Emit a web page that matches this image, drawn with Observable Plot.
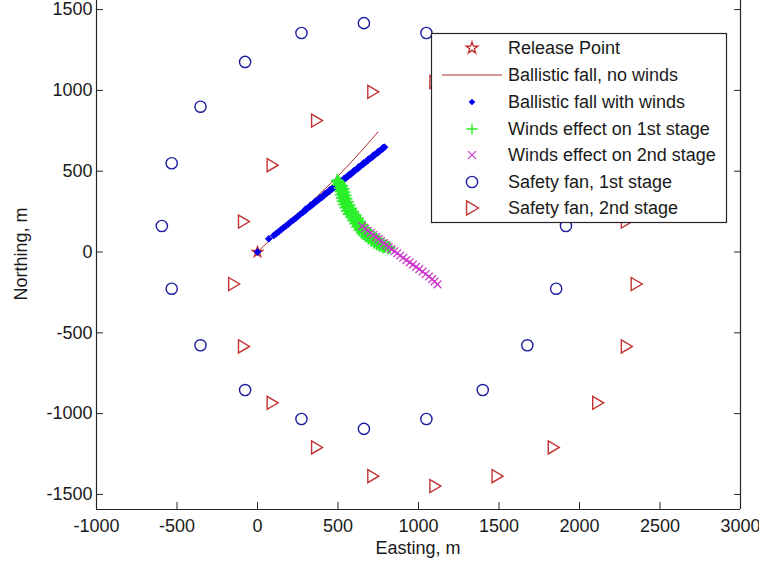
<!DOCTYPE html>
<html>
<head>
<meta charset="utf-8">
<script src="https://cdn.jsdelivr.net/npm/d3@7"></script>
<script src="https://cdn.jsdelivr.net/npm/@observablehq/plot@0.6"></script>
<style>
  html, body { margin: 0; padding: 0; background: white; }
  #chart { width: 759px; height: 569px; }
</style>
</head>
<body>
<div id="chart"></div>
<script>
// ---------- data ----------
const xTicks = [-1000, -500, 0, 500, 1000, 1500, 2000, 2500, 3000];
const yTicks = [-1500, -1000, -500, 0, 500, 1000, 1500];
const xLabel = "Easting, m";
const yLabel = "Northing, m";

const releaseX = [0];
const releaseY = [0];

const noWindX = [0, 60, 150, 250, 350, 453, 550, 650, 747];
const noWindY = [0, 58, 140, 232, 325, 423, 522, 630, 741];

const windX = [0, 70, 101, 116, 131, 146, 161, 176, 191, 206, 221, 236, 251, 266, 281, 296, 311, 326, 341, 356, 371, 386, 401, 416, 431, 446, 461, 476, 491, 506, 521, 536, 551, 566, 581, 596, 611, 626, 641, 656, 671, 686, 701, 716, 731, 746, 761, 776, 789,
               300, 330, 360, 390, 420, 450, 480, 510, 540, 570, 600, 630, 660, 690, 720, 750, 780];
const windY = [0, 82, 102, 114, 125, 138, 150, 161, 173, 186, 197, 208, 221, 234, 245, 256, 270, 281, 292, 305, 317, 328, 339, 353, 364, 375, 389, 400, 411, 425, 436, 446, 460, 471, 482, 496, 507, 518, 532, 543, 554, 567, 579, 589, 603, 613, 626, 637, 648,
               266, 290, 314, 337, 361, 385, 409, 432, 456, 480, 504, 528, 552, 575, 599, 622, 646];

const stage1X = [495, 505, 518, 524, 529, 534, 540, 547, 556, 566, 578, 593, 606, 619, 631, 645, 660, 683, 703, 722, 740, 757, 772, 792, 812,
                 492, 500, 510, 514, 518, 523, 528, 535, 544, 554, 566, 582, 594, 606, 618, 632, 649, 670, 688, 707, 724, 740, 758, 778,
                 510, 526, 536, 542, 548, 554, 562, 572, 582, 595, 610, 624, 638, 651, 666, 682, 704, 724, 742, 760, 777, 793, 808, 822,
                 502, 512, 521, 527, 532, 537, 543, 551, 560, 571, 584, 598, 611, 624, 637, 651, 670, 692, 712, 731, 749, 766, 784];
const stage1Y = [445, 425, 405, 385, 365, 345, 325, 305, 285, 265, 245, 225, 205, 185, 165, 145, 125, 105, 90, 75, 62, 50, 40, 30, 22,
                 435, 415, 395, 375, 355, 335, 315, 295, 275, 255, 235, 215, 195, 175, 155, 135, 115, 97, 82, 68, 56, 45, 35, 26,
                 430, 410, 390, 370, 350, 330, 310, 290, 270, 250, 230, 210, 190, 170, 150, 130, 110, 95, 80, 66, 54, 43, 34, 26,
                 438, 418, 398, 378, 358, 338, 318, 298, 278, 258, 238, 218, 198, 178, 158, 138, 116, 98, 83, 70, 58, 47, 36];

const stage2X = [650, 668, 685, 703, 720, 737, 752, 768, 785, 800, 815, 832, 850, 868, 886, 905, 925, 945, 965, 985, 1005, 1025, 1045, 1065, 1085, 1100, 1118];
const stage2Y = [160, 145, 132, 118, 105, 92, 80, 68, 55, 42, 30, 18, 5, -8, -22, -36, -50, -64, -78, -92, -106, -121, -136, -152, -168, -182, -200];

const fan1X = [661, 273, -77, -354, -533, -594, -533, -354, -77, 273, 661, 1049, 1399, 1676, 1855, 1916, 1855, 1676, 1399, 1049];
const fan1Y = [1416, 1355, 1176, 899, 549, 161, -227, -577, -854, -1033, -1094, -1033, -854, -577, -227, 161, 549, 899, 1176, 1355];

const fan2X = [1102, 716, 367, 91, -87, -148, -87, 91, 367, 716, 1102, 1488, 1837, 2113, 2291, 2352, 2291, 2113, 1837, 1488];
const fan2Y = [1052, 991, 813, 537, 188, -198, -584, -933, -1209, -1387, -1448, -1387, -1209, -933, -584, -198, 188, 537, 813, 991];

const legendLabels = ["Release Point", "Ballistic fall, no winds", "Ballistic fall with winds",
  "Winds effect on 1st stage", "Winds effect on 2nd stage", "Safety fan, 1st stage", "Safety fan, 2nd stage"];

// ---------- styles ----------
const C = {
  star: "#c42a2a", line: "#b02a2a", wind: "#0000ee", s1: "#2af02a", s2: "#cc33cc",
  fan1: "#1c1ca0", fan2: "#c23232", axis: "#262626", text: "#1a1a1a"
};
const triangleRight = {
  draw(ctx, size) {
    const k = Math.sqrt(size / Math.PI) / 6;
    ctx.moveTo(-5 * k, -6.5 * k);
    ctx.lineTo(6 * k, 0);
    ctx.lineTo(-5 * k, 6.5 * k);
    ctx.closePath();
  }
};

const font = "'Liberation Sans', Arial, Helvetica, sans-serif";

const chart = Plot.plot({
  width: 759,
  height: 569,
  marginLeft: 96,
  marginRight: 19,
  marginTop: 0,
  marginBottom: 60,
  style: { fontFamily: font, fontSize: "18px", color: C.text, background: "white", overflow: "visible" },
  x: { domain: [-1000, 3000] },
  y: { domain: [-1593, 1556] },
  marks: [
    Plot.ruleX([-1000, 3000], { stroke: C.axis, strokeWidth: 1.2 }),
    Plot.ruleY([-1593], { stroke: C.axis, strokeWidth: 1.2 }),
    Plot.axisX({ ticks: xTicks, tickFormat: d => String(d), tickSize: -7, tickPadding: 17, stroke: C.axis, label: null }),
    Plot.axisY({ ticks: yTicks, tickFormat: d => String(d), tickSize: -7, tickPadding: 11, stroke: C.axis, label: null }),
    Plot.axisY({ anchor: "right", ticks: yTicks, tickFormat: () => "", tickSize: -7, tickPadding: 0, stroke: C.axis, label: null }),
    Plot.dot(releaseX, { x: releaseX, y: releaseY, symbol: "star", r: 3.3, stroke: C.star, strokeWidth: 1.3 }),
    Plot.line(noWindX, { x: noWindX, y: noWindY, stroke: C.line, strokeWidth: 1 }),
    Plot.dot(windX, { x: windX, y: windY, symbol: "diamond2", r: 3.2, fill: C.wind, stroke: C.wind, strokeWidth: 0.6 }),
    Plot.dot(stage1X, { x: stage1X, y: stage1Y, symbol: "plus", r: 3.8, stroke: C.s1, strokeWidth: 1.8 }),
    Plot.dot(stage2X, { x: stage2X, y: stage2Y, symbol: "times", r: 3.6, stroke: C.s2, strokeWidth: 1.2 }),
    Plot.dot(fan1X, { x: fan1X, y: fan1Y, symbol: "circle", r: 5.6, stroke: C.fan1, strokeWidth: 1.4 }),
    Plot.dot(fan2X, { x: fan2X, y: fan2Y, symbol: triangleRight, r: 6, stroke: C.fan2, strokeWidth: 1.4 })
  ]
});

document.getElementById("chart").appendChild(chart);

const svg = d3.select(chart);

// ---------- axis labels ----------
svg.append("text").attr("x", 418).attr("y", 548).attr("dy", "0.35em")
  .attr("text-anchor", "middle").attr("font-family", font).attr("font-size", 18).attr("fill", C.text).text(xLabel);
svg.append("text").attr("transform", "translate(21,254) rotate(-90)").attr("dy", "0.35em")
  .attr("text-anchor", "middle").attr("font-family", font).attr("font-size", 18).attr("fill", C.text).text(yLabel);

// ---------- legend (inside the axes, top right) ----------
const lg = svg.append("g").attr("font-family", font).attr("font-size", 18).attr("fill", C.text).attr("text-anchor", "start");
lg.append("rect").attr("x", 431.5).attr("y", 33.5).attr("width", 295).attr("height", 189)
  .attr("fill", "white").attr("stroke", C.axis).attr("stroke-width", 1.2);
const rowY = [48, 75, 102, 129, 155, 182, 208];
const sym = (t, r) => d3.symbol(t, Math.PI * r * r)();
const legendSyms = [
  g => g.append("path").attr("d", sym(d3.symbolStar, 3.7)).attr("fill", "none").attr("stroke", C.star).attr("stroke-width", 1.3),
  g => g.append("line").attr("x1", -30).attr("x2", 30).attr("stroke", C.line).attr("stroke-width", 1.2),
  g => g.append("path").attr("d", sym(d3.symbolDiamond2, 3)).attr("fill", C.wind),
  g => g.append("path").attr("d", sym(d3.symbolPlus, 3.6)).attr("fill", "none").attr("stroke", C.s1).attr("stroke-width", 1.4),
  g => g.append("path").attr("d", sym(d3.symbolTimes, 3.6)).attr("fill", "none").attr("stroke", C.s2).attr("stroke-width", 1.1),
  g => g.append("path").attr("d", sym(d3.symbolCircle, 5.6)).attr("fill", "none").attr("stroke", C.fan1).attr("stroke-width", 1.4),
  g => g.append("path").attr("d", sym(triangleRight, 6.5)).attr("fill", "none").attr("stroke", C.fan2).attr("stroke-width", 1.4)
];
legendLabels.forEach((lab, i) => {
  const g = lg.append("g").attr("transform", `translate(472,${rowY[i]})`);
  legendSyms[i](g);
  lg.append("text").attr("x", 508).attr("y", rowY[i]).attr("dy", "0.35em").text(lab);
});
</script>
</body>
</html>
